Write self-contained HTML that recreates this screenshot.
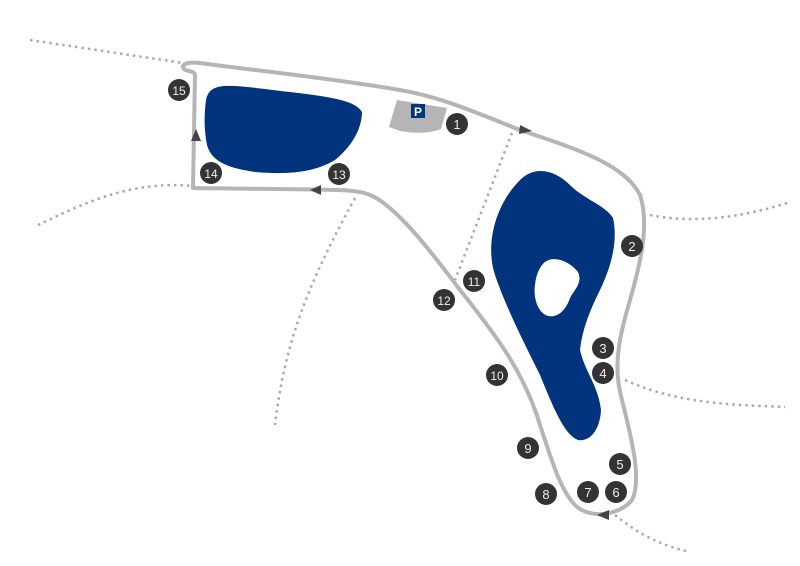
<!DOCTYPE html>
<html><head><style>html,body{margin:0;padding:0;background:#fff}svg{display:block}text{font-family:"Liberation Sans",sans-serif;font-size:13px;fill:#eee;text-anchor:middle}</style></head>
<body>
<svg width="800" height="566" viewBox="0 0 800 566" xmlns="http://www.w3.org/2000/svg">
<g fill="none" stroke="#aaa" stroke-width="2.5" stroke-dasharray="2.5,4">
<path d="M30,40 L183,63"/>
<path d="M38,225 C80,205 130,180 193,186"/>
<path d="M355,198 C310,280 285,340 275,425"/>
<path d="M512,133 L455,280"/>
<path d="M650,215 C700,225 750,215 790,202"/>
<path d="M625,380 C680,405 740,405 785,407"/>
<path d="M615,515 C640,535 660,545 690,552"/>
</g>
<path d="M206,100 C210,80 230,85 290,92 C330,97 355,100 362,112 C362,130 350,148 335,160 C315,172 290,175 255,172 C230,168 212,163 207,145 C204,130 204,115 206,100Z" fill="#02347e"/>
<path d="M520,180 C535,165 555,170 570,185 C585,200 605,205 613,218 C618,240 612,265 600,290 C590,310 582,330 580,350 C585,372 598,385 601,410 C600,430 590,442 578,440 C565,435 555,412 540,375 C525,345 505,305 495,275 C485,245 495,205 520,180Z" fill="#02347e"/>
<path d="M545,262 C555,255 570,262 578,272 C583,283 574,290 570,298 C566,310 558,318 548,316 C538,313 533,298 535,285 C536,274 540,266 545,262Z" fill="#fff"/>
<path d="M183,67 C183,63 190,62 200,63 C250,70 330,78 400,90 C440,97 470,110 520,130 C580,150 625,165 640,195 C650,225 640,265 630,300 C620,335 612,365 622,400 C632,440 642,480 632,500 C620,515 590,520 575,505 C560,490 550,455 540,425 C525,375 500,340 460,290 C430,250 395,205 370,195 C355,188 330,190 193,188 L195,75 C195,70 183,72 183,67Z" fill="none" stroke="#b5b5b5" stroke-width="4" stroke-linejoin="round"/>
<g fill="#444">
<path d="M520,125 L532,131 L519,134Z"/>
<path d="M310,190 L321,185 L321,195Z"/>
<path d="M196,129 L201,141 L191,141Z"/>
<path d="M597,515 L609,510 L609,520Z"/>
</g>
<path d="M397,100 L447,108 L441,129 C430,133 418,134 400,131 L389,127Z" fill="#b5b5b5"/>
<rect x="411" y="104" width="14" height="14" fill="#02347e"/>
<text x="418" y="116" style="font-weight:bold;font-size:12px;fill:#fff">P</text>
<g fill="#333">
<circle cx="457" cy="124" r="11"/><circle cx="632" cy="246" r="11"/><circle cx="603" cy="348" r="11"/><circle cx="603" cy="373" r="11"/><circle cx="620" cy="464" r="11"/><circle cx="616" cy="492" r="11"/><circle cx="588" cy="492" r="11"/><circle cx="546" cy="494" r="11"/><circle cx="528" cy="448" r="11"/><circle cx="497" cy="375" r="11"/><circle cx="474" cy="281" r="11"/><circle cx="444" cy="300" r="11"/><circle cx="339" cy="174" r="11"/><circle cx="211" cy="173" r="11"/><circle cx="179" cy="90" r="11"/>
</g>
<g>
<text x="457" y="129">1</text><text x="632" y="251">2</text><text x="603" y="353">3</text><text x="603" y="378">4</text><text x="620" y="469">5</text><text x="616" y="497">6</text><text x="588" y="497">7</text><text x="546" y="499">8</text><text x="528" y="453">9</text><text x="497" y="380" style="font-size:12px">10</text><text x="474" y="286" style="font-size:12px">11</text><text x="444" y="305" style="font-size:12px">12</text><text x="339" y="179" style="font-size:12px">13</text><text x="211" y="178" style="font-size:12px">14</text><text x="179" y="95" style="font-size:12px">15</text>
</g>
</svg>
</body></html>
